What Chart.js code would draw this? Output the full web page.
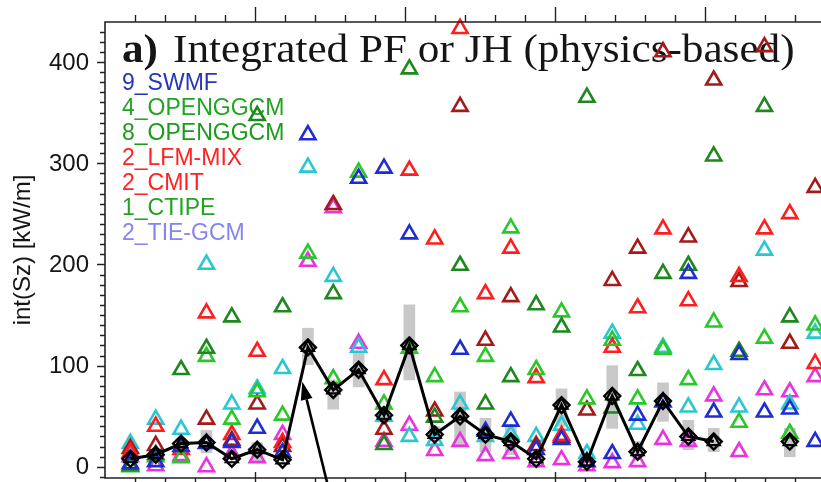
<!DOCTYPE html>
<html lang="en">
<head>
<meta charset="UTF-8">
<title>Integrated PF or JH (physics-based)</title>
<script src="https://cdn.jsdelivr.net/npm/chart.js"></script>
<style>
  html, body { margin: 0; padding: 0; background: #fff; overflow: hidden; }
  #wrap { width: 821px; height: 482px; }
  canvas { display: block; }
</style>
</head>
<body>
<div id="wrap"><canvas id="pfChart" width="821" height="482"></canvas></div>
<script>
// event number along the x axis
const events = [1, 2, 3, 4, 5, 6, 7, 8, 9, 10, 11, 12, 13, 14, 15, 16, 17, 18, 19, 20, 21, 22, 23, 24, 25, 26, 27, 28];

// integrated Sz per model run [kW/m]
const swmf9      = [3, 5, 20, 23, 24, 38, 14, 328, null, 285, 295, 230, null, 116, 35, 45, 17, 27, 5, 13, 51, 64, 191, 54, 111, 54, 57, 25];
const openggcm4  = [1, 12, 96, 117, 148, 347, 158, null, 171, null, 22, 393, 49, 199, 62, 89, 160, 138, 365, 58, 95, 191, 199, 307, 114, 356, 148, null];
const openggcm8  = [0, 10, 9, 109, 47, 74, 51, 211, 87, 291, 62, 117, 89, 158, 109, 236, 96, 153, 67, 125, 67, 116, 86, 143, 44, 127, 33, 140];
const lfmmix2    = [14, 40, 17, 152, 32, 114, 24, null, null, null, 86, 293, 225, 433, 171, 216, 88, 31, null, 118, 157, 235, 164, null, 188, 235, 250, 102];
const cmit2      = [18, 21, null, 47, 26, 62, 20, null, 259, null, 37, null, 55, 356, 125, 168, 21, 29, 56, 184, 216, 410, 227, 382, 183, 415, 122, 276];
const ctipe1     = [23, 47, 37, 200, 62, 77, 97, 296, 188, 118, 50, 30, 26, 62, 30, 32, 30, 41, 13, 132, 42, 118, 59, 101, 59, 214, 62, 132];
const tiegcm2    = [10, 1, 11, 0, 13, 9, 32, 203, 256, 122, 25, 41, 16, 25, 11, 13, 5, 7, 1, 4, 5, 27, 25, 70, 15, 76, 74, 89];

// median of the runs and its spread
const median     = [8, 12, 23, 24, 8, 17, 7, 118, 76, 96, 51, 120, 32, 50, 32, 25, 8, 61, 5, 70, 15, 65, 30, 25, null, null, 25, null];
const spreadLow  = [null, null, null, 14, null, 6, null, 101, 57, 79, 44, 86, 26, 20, 15, 12, null, 40, null, 38, 9, 45, 17, 15, null, null, 10, null];
const spreadHigh = [null, null, null, 36, null, 24, null, 137, 86, 113, 60, 160, 40, 74, 48, 40, null, 77, null, 100, 25, 83, 46, 38, null, null, 38, null];

const yTicks = [0, 100, 200, 300, 400];
const xTickStep = 1.182;   // minor tick spacing in event units, every 5th is major

const legendNames  = ['9_SWMF', '4_OPENGGCM', '8_OPENGGCM', '2_LFM-MIX', '2_CMIT', '1_CTIPE', '2_TIE-GCM'];
const legendColors = ['#2636b8', '#22a322', '#1c9a1c', '#ff2222', '#ff2222', '#22a322', '#8585ee'];

const arrowFrom = { x: 8.84, y: -24 };
const arrowTo   = { x: 7.78, y: 84 };

const SANS = '"Liberation Sans", Arial, sans-serif';
const SERIF = '"Liberation Serif", "Times New Roman", serif';

function pts(arr) {
  return events.map((x, i) => ({ x: x, y: arr[i] })).filter(p => p.y !== null);
}

function tri(label, arr, color, order) {
  return {
    type: 'scatter',
    label: label,
    data: pts(arr),
    order: order,
    pointStyle: 'triangle',
    pointRadius: 8.7,
    pointBorderWidth: 2.6,
    borderColor: color,
    backgroundColor: 'rgba(0,0,0,0)',
    clip: false
  };
}

// title and the coloured run list
const textPlugin = {
  id: 'textPlugin',
  beforeDatasetsDraw(chart) {
    const ctx = chart.ctx;
    ctx.save();
    ctx.fillStyle = '#151515';
    ctx.textBaseline = 'alphabetic';
    ctx.translate(122, 62);
    ctx.scale(1.08, 1);
    ctx.font = 'bold 40px ' + SERIF;
    ctx.fillText('a)', 0, 0);
    const w = ctx.measureText('a)').width + 14;
    ctx.font = '40px ' + SERIF;
    ctx.fillText('Integrated PF or JH (physics-based)', w, 0);
    ctx.restore();

    ctx.save();
    ctx.font = '23px ' + SANS;
    ctx.textBaseline = 'middle';
    legendNames.forEach((name, i) => {
      ctx.fillStyle = legendColors[i];
      ctx.fillText(name, 122, 84 + i * 25);
    });
    ctx.restore();
  }
};

// left, top and bottom axis lines, tick marks and y tick labels
const framePlugin = {
  id: 'framePlugin',
  afterDatasetsDraw(chart) {
    const ctx = chart.ctx;
    const a = chart.chartArea;
    const xs = chart.scales.x, ys = chart.scales.y;
    ctx.save();
    ctx.strokeStyle = '#222';
    ctx.lineWidth = 1.6;
    ctx.beginPath();
    ctx.moveTo(chart.width, a.top);
    ctx.lineTo(a.left, a.top);
    ctx.lineTo(a.left, a.bottom);
    ctx.lineTo(chart.width, a.bottom);
    ctx.stroke();

    ctx.lineWidth = 1.4;
    ctx.beginPath();
    for (let v = -10; v <= ys.max; v += 10) {
      const py = Math.round(ys.getPixelForValue(v)) + 0.5;
      const len = (v % 100 === 0) ? 8 : 5;
      ctx.moveTo(a.left - len, py);
      ctx.lineTo(a.left, py);
    }
    for (let k = 1; k * xTickStep < xs.max; k++) {
      const px = Math.round(xs.getPixelForValue(k * xTickStep)) + 0.5;
      const major = k % 5 === 0;
      ctx.moveTo(px, a.top);
      ctx.lineTo(px, a.top - (major ? 15 : 7));
      ctx.moveTo(px, a.bottom + 5);
      ctx.lineTo(px, a.bottom - (major ? 6 : 0));
    }
    ctx.stroke();

    ctx.fillStyle = '#151515';
    ctx.font = '24px ' + SANS;
    ctx.textAlign = 'right';
    ctx.textBaseline = 'middle';
    yTicks.forEach(v => {
      ctx.fillText(String(v), a.left - 16, ys.getPixelForValue(v) + 1);
    });
    ctx.restore();
  }
};

// arrow pointing at the largest median peak
const arrowPlugin = {
  id: 'arrowPlugin',
  afterDatasetsDraw(chart) {
    const ctx = chart.ctx;
    const xs = chart.scales.x, ys = chart.scales.y;
    const x0 = xs.getPixelForValue(arrowFrom.x), y0 = ys.getPixelForValue(arrowFrom.y);
    const x1 = xs.getPixelForValue(arrowTo.x), y1 = ys.getPixelForValue(arrowTo.y);
    const ang = Math.atan2(y1 - y0, x1 - x0);
    const head = 18, half = 6;
    const bx = x1 - head * Math.cos(ang), by = y1 - head * Math.sin(ang);
    ctx.save();
    ctx.strokeStyle = '#000';
    ctx.fillStyle = '#000';
    ctx.lineWidth = 2.6;
    ctx.beginPath();
    ctx.moveTo(x0, y0);
    ctx.lineTo(bx, by);
    ctx.stroke();
    ctx.beginPath();
    ctx.moveTo(x1, y1);
    ctx.lineTo(bx + half * Math.sin(ang), by - half * Math.cos(ang));
    ctx.lineTo(bx - half * Math.sin(ang), by + half * Math.cos(ang));
    ctx.closePath();
    ctx.fill();
    ctx.restore();
  }
};

const spreadData = events.map((x, i) => spreadLow[i] === null ? null : { x: x, y: [spreadLow[i], spreadHigh[i]] }).filter(p => p);

new Chart(document.getElementById('pfChart'), {
  type: 'scatter',
  data: {
    datasets: [
      {
        type: 'line',
        label: 'median',
        data: events.map((x, i) => ({ x: x, y: median[i] })),
        order: 0,
        borderColor: '#000',
        borderWidth: 3,
        spanGaps: false,
        pointStyle: 'rectRot',
        pointRadius: 8,
        pointBorderWidth: 2.4,
        pointBorderColor: '#000',
        pointBackgroundColor: 'rgba(0,0,0,0)',
        clip: false
      },
      {
        type: 'scatter',
        label: 'median marker',
        data: pts(median),
        order: 1,
        pointStyle: 'triangle',
        pointRadius: 7,
        pointBorderWidth: 2.2,
        borderColor: '#000',
        backgroundColor: 'rgba(0,0,0,0)'
      },
      tri('9_SWMF', swmf9, 'rgb(30,45,210)', 2),
      tri('4_OPENGGCM', openggcm4, 'rgb(30,135,30)', 3),
      tri('8_OPENGGCM', openggcm8, 'rgb(40,200,40)', 4),
      tri('2_LFM-MIX', lfmmix2, 'rgb(255,30,30)', 5),
      tri('2_CMIT', cmit2, 'rgb(165,25,25)', 6),
      tri('1_CTIPE', ctipe1, 'rgb(40,200,210)', 7),
      tri('2_TIE-GCM', tiegcm2, 'rgb(235,50,225)', 8),
      {
        type: 'bar',
        label: 'spread',
        data: spreadData,
        order: 10,
        barThickness: 11,
        backgroundColor: 'rgb(200,200,200)',
        borderWidth: 0
      }
    ]
  },
  options: {
    responsive: false,
    animation: false,
    layout: { autoPadding: false, padding: { top: 22, right: 0, bottom: 4, left: 0 } },
    plugins: { legend: { display: false }, tooltip: { enabled: false } },
    scales: {
      x: {
        type: 'linear',
        display: false,
        offset: false,
        min: 0,
        max: 28.23
      },
      y: {
        type: 'linear',
        min: -11,
        max: 439.5,
        afterFit(scale) { scale.width = 105; },
        grid: { display: false, drawTicks: false },
        border: { display: false },
        ticks: { display: false },
        title: {
          display: true,
          text: 'int(Sz) [kW/m]',
          color: '#151515',
          padding: { top: 9, bottom: 0 },
          font: { family: SANS, size: 24 }
        }
      }
    }
  },
  plugins: [textPlugin, framePlugin, arrowPlugin]
});
</script>
</body>
</html>
